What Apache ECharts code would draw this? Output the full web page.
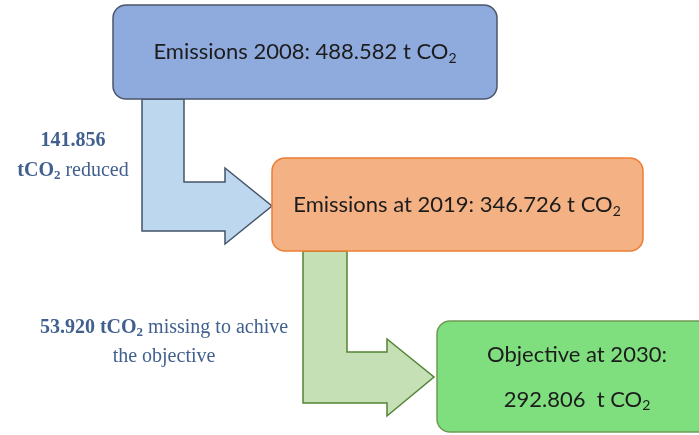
<!DOCTYPE html>
<html>
<head>
<meta charset="utf-8">
<script src="https://cdn.jsdelivr.net/npm/echarts/dist/echarts.min.js"></script>
<style>
  html, body { margin: 0; padding: 0; background: #fff; }
  #chart { width: 699px; height: 435px; }
</style>
</head>
<body>
<div id="chart"></div>
<script>
// values
const years = [2008, 2019, 2030];
const boxTitles = ['Emissions', 'Emissions at', 'Objective at'];
const emissions = ['488.582', '346.726', '292.806'];
const changeValues = ['141.856', '53.920'];
const changeTexts = ['reduced', 'missing to achive'];

// layout (axis units = pixels of the 699x435 picture)
const boxRects = [[113, 5, 497, 99], [272, 158, 643, 251], [437, 321, 716, 432]];
const boxTextPos = [[305, 52], [457, 205], [577, 377]];
const boxFill = ['#8faadc', '#f4b183', '#7fdf7f'];
const boxStroke = ['#4a566b', '#ed7d31', '#6f9a55'];

const arrowShapes = [
  [[142, 99], [184, 99], [184, 182], [225, 182], [225, 168], [272, 206], [225, 244], [225, 231], [142, 231]],
  [[303, 251], [347, 251], [347, 352], [387, 352], [387, 339], [434, 377], [387, 416], [387, 403], [303, 403]]
];
const arrowFill = ['#bdd7ee', '#c5e0b4'];
const arrowStroke = ['#44546a', '#548235'];

const labelPos = [[73, 156], [164, 342]];
const labelLine = [30, 29];

const sans = 'Lato, "Open Sans", sans-serif';
const serif = '"Liberation Serif", "DejaVu Serif", serif';
const ink = '#41608f';

const boxRich = {
  m: { fontFamily: sans, fontSize: 22, fill: '#1c1c1c', lineHeight: 45 },
  s: { fontFamily: sans, fontSize: 14, fill: '#1c1c1c', padding: [12, 0, 0, 0], lineHeight: 45 }
};

function labelRich(lh) {
  return {
    b: { fontFamily: serif, fontSize: 20, fontWeight: 'bold', fill: ink, lineHeight: lh },
    bs: { fontFamily: serif, fontSize: 13, fontWeight: 'bold', fill: ink, padding: [10, 0, 0, 0], lineHeight: lh },
    n: { fontFamily: serif, fontSize: 20, fill: ink, lineHeight: lh }
  };
}

function boxText(i) {
  if (i === 2) {
    return '{m|' + boxTitles[i] + ' ' + years[i] + ':}\n{m|' + emissions[i] + '  t CO}{s|2}';
  }
  return '{m|' + boxTitles[i] + ' ' + years[i] + ': ' + emissions[i] + ' t CO}{s|2}';
}

function labelText(i) {
  if (i === 0) {
    return '{b|' + changeValues[0] + '}\n{b|tCO}{bs|2}{n| ' + changeTexts[0] + '}';
  }
  return '{b|' + changeValues[1] + ' tCO}{bs|2}{n| ' + changeTexts[1] + '}\n{n|the objective}';
}

const chart = echarts.init(document.getElementById('chart'));
chart.setOption({
  animation: false,
  grid: { left: 0, right: 0, top: 0, bottom: 0 },
  xAxis: { type: 'value', min: 0, max: 699, show: false },
  yAxis: { type: 'value', min: 0, max: 435, inverse: true, show: false },
  series: [
    {
      type: 'custom',
      data: [0, 1],
      renderItem: function (params, api) {
        const i = params.dataIndex;
        return {
          type: 'polygon',
          shape: { points: arrowShapes[i].map(p => api.coord(p)) },
          style: { fill: arrowFill[i], stroke: arrowStroke[i], lineWidth: 1.5 }
        };
      }
    },
    {
      type: 'custom',
      data: [0, 1, 2],
      renderItem: function (params, api) {
        const i = params.dataIndex;
        const r = boxRects[i];
        const a = api.coord([r[0], r[1]]);
        const b = api.coord([r[2], r[3]]);
        const t = api.coord(boxTextPos[i]);
        return {
          type: 'group',
          children: [
            {
              type: 'rect',
              shape: { x: a[0], y: a[1], width: b[0] - a[0], height: b[1] - a[1], r: 13 },
              style: { fill: boxFill[i], stroke: boxStroke[i], lineWidth: 1.5 }
            },
            {
              type: 'text',
              x: t[0], y: t[1],
              style: {
                text: boxText(i), rich: boxRich, align: 'center', verticalAlign: 'middle'
              }
            }
          ]
        };
      }
    },
    {
      type: 'custom',
      data: [0, 1],
      renderItem: function (params, api) {
        const i = params.dataIndex;
        const t = api.coord(labelPos[i]);
        return {
          type: 'text',
          x: t[0], y: t[1],
          style: {
            text: labelText(i), rich: labelRich(labelLine[i]), align: 'center', verticalAlign: 'middle'
          }
        };
      }
    }
  ]
});
</script>
</body>
</html>
